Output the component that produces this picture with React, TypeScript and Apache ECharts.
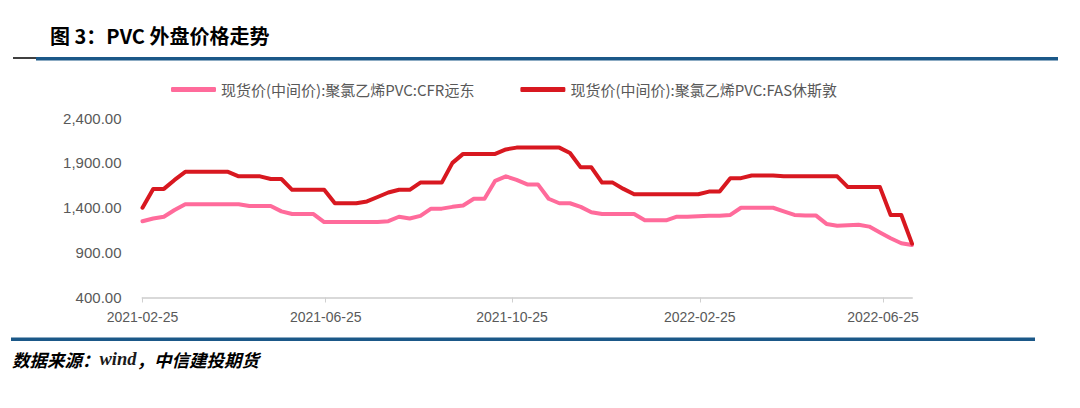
import React, { useEffect, useRef } from "react";
import * as echarts from "echarts";

const titleText = "图 3：PVC 外盘价格走势";
const sourceLabel = "数据来源：";
const sourceWind = "wind";
const sourceRest = "，中信建投期货";

const seriesNames = [
  "现货价(中间价):聚氯乙烯PVC:CFR远东",
  "现货价(中间价):聚氯乙烯PVC:FAS休斯敦",
];

const dates = [
  "2021-02-25", "2021-03-04", "2021-03-11", "2021-03-18", "2021-03-25",
  "2021-04-01", "2021-04-08", "2021-04-15", "2021-04-22", "2021-04-29",
  "2021-05-06", "2021-05-13", "2021-05-20", "2021-05-27",
  "2021-06-03", "2021-06-10", "2021-06-17", "2021-06-24",
  "2021-07-01", "2021-07-08", "2021-07-15", "2021-07-22", "2021-07-29",
  "2021-08-05", "2021-08-12", "2021-08-19", "2021-08-26",
  "2021-09-02", "2021-09-09", "2021-09-16", "2021-09-23", "2021-09-30",
  "2021-10-07", "2021-10-14", "2021-10-21", "2021-10-28",
  "2021-11-04", "2021-11-11", "2021-11-18", "2021-11-25",
  "2021-12-02", "2021-12-09", "2021-12-16", "2021-12-23", "2021-12-30",
  "2022-01-06", "2022-01-13", "2022-01-20", "2022-01-27",
  "2022-02-03", "2022-02-10", "2022-02-17", "2022-02-24",
  "2022-03-03", "2022-03-10", "2022-03-17", "2022-03-24", "2022-03-31",
  "2022-04-07", "2022-04-14", "2022-04-21", "2022-04-28",
  "2022-05-05", "2022-05-12", "2022-05-19", "2022-05-26",
  "2022-06-02", "2022-06-09", "2022-06-16", "2022-06-23", "2022-06-30",
  "2022-07-07", "2022-07-14",
];

const cfrFarEast = [
  1250, 1280, 1300, 1375, 1440, 1440, 1440, 1440, 1440, 1440,
  1420, 1420, 1420, 1360, 1330, 1330, 1330, 1240, 1240, 1240,
  1240, 1240, 1240, 1250, 1300, 1280, 1310, 1390, 1390, 1410,
  1425, 1500, 1500, 1700, 1750, 1710, 1660, 1660, 1500, 1450,
  1450, 1410, 1350, 1330, 1330, 1330, 1330, 1260, 1260, 1260,
  1300, 1300, 1305, 1310, 1310, 1320, 1400, 1400, 1400, 1400,
  1360, 1320, 1315, 1315, 1220, 1200, 1205, 1210, 1190, 1125,
  1060, 1005, 985,
];

const fasHouston = [
  1400, 1610, 1610, 1710, 1800, 1800, 1800, 1800, 1800, 1750,
  1750, 1750, 1720, 1720, 1600, 1600, 1600, 1600, 1450, 1450,
  1450, 1470, 1520, 1570, 1600, 1600, 1680, 1680, 1680, 1900,
  2000, 2000, 2000, 2000, 2050, 2070, 2070, 2070, 2070, 2070,
  2010, 1850, 1850, 1680, 1680, 1610, 1550, 1550, 1550, 1550,
  1550, 1550, 1550, 1580, 1580, 1730, 1730, 1760, 1760, 1760,
  1750, 1750, 1750, 1750, 1750, 1750, 1630, 1630, 1630, 1630,
  1320, 1320, 1000,
];

const xTickDates = ["2021-02-25", "2021-06-25", "2021-10-25", "2022-02-25", "2022-06-25"];
const xMinDate = "2021-02-25";
const xMaxDate = "2022-07-14";
const yMin = 400;
const yMax = 2400;
const yInterval = 500;

function toTs(s: string): number {
  const [y, m, d] = s.split("-").map(Number);
  return Date.UTC(y, m - 1, d);
}
function fmtDate(v: number): string {
  const d = new Date(v);
  const mm = String(d.getUTCMonth() + 1).padStart(2, "0");
  const dd = String(d.getUTCDate()).padStart(2, "0");
  return `${d.getUTCFullYear()}-${mm}-${dd}`;
}

export default function App() {
  const ref = useRef<HTMLDivElement>(null);
  useEffect(() => {
    if (!ref.current) return;
    const chart = echarts.init(ref.current, null, { renderer: "svg" });
    const tickTs = xTickDates.map(toTs);
    const labelColor = "#595959";
    const option: any = {
      animation: false,
      backgroundColor: "#ffffff",
      grid: { left: 142.5, right: 168, top: 118, bottom: 110.5, containLabel: false },
      legend: {
        left: 166,
        top: 77,
        icon: "roundRect",
        itemWidth: 45,
        itemHeight: 5,
        itemGap: 46,
        textStyle: { color: labelColor, fontSize: 15, fontFamily: "Noto Sans CJK SC" },
        data: seriesNames,
      },
      xAxis: {
        type: "value",
        min: toTs(xMinDate),
        max: toTs(xMaxDate),
        scale: true,
        axisLine: { show: true, lineStyle: { color: "#d9d9d9", width: 2 } },
        axisTick: { show: true, customValues: tickTs, length: 5, lineStyle: { color: "#d0d0d0", width: 1 } },
        axisLabel: {
          customValues: tickTs,
          formatter: (v: number) => fmtDate(v),
          color: labelColor,
          fontSize: 14,
          fontFamily: "Liberation Sans",
          margin: 12,
          hideOverlap: false,
        },
        splitLine: { show: false },
      },
      yAxis: {
        type: "value",
        min: yMin,
        max: yMax,
        interval: yInterval,
        axisLine: { show: false },
        axisTick: { show: false },
        splitLine: { show: false },
        axisLabel: {
          color: labelColor,
          fontSize: 15,
          fontFamily: "Liberation Sans",
          margin: 21,
          formatter: (v: number) =>
            v.toLocaleString("en-US", { minimumFractionDigits: 2, maximumFractionDigits: 2 }),
        },
      },
      series: [
        {
          name: seriesNames[0],
          type: "line",
          data: dates.map((d, i) => [toTs(d), cfrFarEast[i]]),
          showSymbol: false,
          symbol: "none",
          lineStyle: { color: "#FF6B9B", width: 4, cap: "round", join: "round" },
          itemStyle: { color: "#FF6B9B" },
        },
        {
          name: seriesNames[1],
          type: "line",
          data: dates.map((d, i) => [toTs(d), fasHouston[i]]),
          showSymbol: false,
          symbol: "none",
          lineStyle: { color: "#D81820", width: 4, cap: "round", join: "round" },
          itemStyle: { color: "#D81820" },
        },
      ],
      graphic: [
        {
          type: "text",
          x: 50,
          y: 35,
          style: {
            text: titleText,
            fontSize: 20,
            fontWeight: "bold",
            fontFamily: "Noto Sans CJK SC",
            fill: "#000000",
            verticalAlign: "middle",
          },
        },
        { type: "line", shape: { x1: 13, y1: 58, x2: 37, y2: 58 }, style: { stroke: "#000000", lineWidth: 1.5 } },
        { type: "rect", shape: { x: 36, y: 57, width: 1022, height: 3.5 }, style: { fill: "#1B5888" } },
        { type: "rect", shape: { x: 11, y: 337.5, width: 1024, height: 3.5 }, style: { fill: "#1B5888" } },
        {
          type: "text",
          x: 12,
          y: 359,
          style: {
            rich: {
              a: { fontSize: 17.5, fontStyle: "italic", fontWeight: "bold", fontFamily: "Noto Sans CJK SC", fill: "#000" },
              w: { fontSize: 18.5, fontStyle: "italic", fontWeight: "bold", fontFamily: "Liberation Serif", fill: "#1a1a1a" },
            },
            text: `{a|${sourceLabel}}{w|${sourceWind}}{a|${sourceRest}}`,
            verticalAlign: "middle",
          },
        },
      ],
    };
    chart.setOption(option);
    return () => chart.dispose();
  }, []);
  return (
    <div
      ref={ref}
      style={{ position: "absolute", left: 0, top: 0, width: 1080, height: 408, background: "#fff" }}
    />
  );
}
